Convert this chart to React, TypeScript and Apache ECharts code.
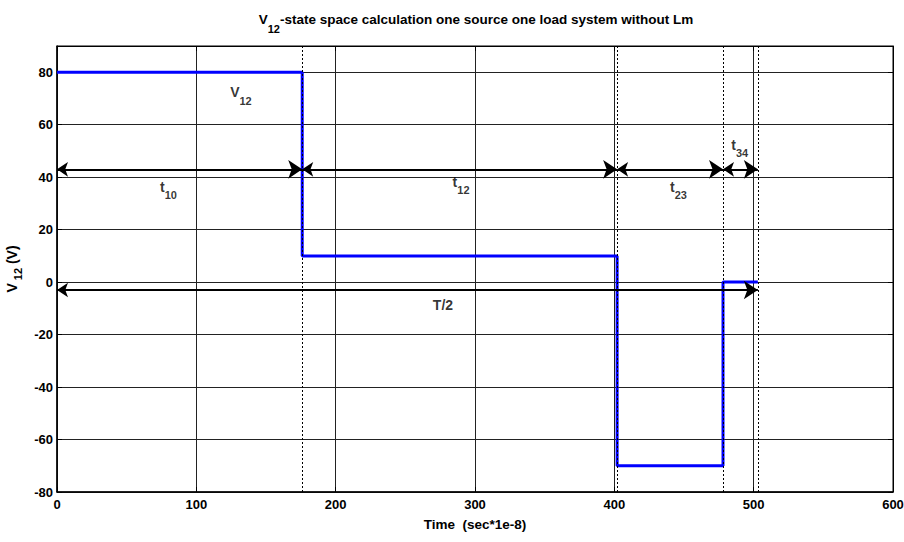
import React, { useEffect, useRef } from "react";
import * as echarts from "echarts";

const FONT = "'Liberation Sans', Arial, sans-serif";

// Switching instants of the V12 waveform (sec*1e-8)
const switchTimes = [176, 402, 478, 503];
// V12 step waveform: [time, voltage]
const v12Points: [number, number][] = [
  [0, 80],
  [176, 80],
  [176, 10],
  [402, 10],
  [402, -70],
  [478, -70],
  [478, 0],
  [503, 0],
];
// Interval arrows: [start, end, level]
const intervalArrows: [number, number, number][] = [
  [0, 176, 43],
  [176, 402, 43],
  [402, 478, 43],
  [478, 503, 43],
  [0, 503, -3],
];
// Annotation texts: [x, y, main, subscript]
const annotations: [number, number, string, string][] = [
  [132, 71, "V", "12"],
  [80, 35, "t", "10"],
  [290, 37, "t", "12"],
  [446, 35, "t", "23"],
  [490, 51, "t", "34"],
  [277, -10, "T/2", ""],
];

const xTicks = { min: 0, max: 600, interval: 100 };
const yTicks = { min: -80, max: 90, interval: 20 };

// main text + lowered subscript
const subRich = (main: number, sub: number, lh: number) => ({
  m: { fontFamily: FONT, fontWeight: "bold", fontSize: main, color: "#000", lineHeight: lh, verticalAlign: "top" },
  s: { fontFamily: FONT, fontWeight: "bold", fontSize: sub, color: "#000", lineHeight: lh, verticalAlign: "bottom" },
});

export default function App() {
  const ref = useRef<HTMLDivElement>(null);

  useEffect(() => {
    if (!ref.current) return;
    const chart = echarts.init(ref.current, undefined, { renderer: "svg" });
    const labelStyle = { fontFamily: FONT, fontWeight: "bold" as const, fontSize: 13, color: "#000" };

    chart.setOption({
      animation: false,
      backgroundColor: "#fff",
      title: {
        text: "{m|V}{s|12}{m|-state space calculation one source one load system without Lm}",
        left: 471,
        top: 7,
        textAlign: "center",
        textStyle: { rich: subRich(13.5, 11, 22) },
      },
      grid: {
        left: 57,
        right: 11,
        top: 46,
        bottom: 50,
        outerBoundsMode: "none",
        containLabel: false,
        show: true,
        borderColor: "#000",
        borderWidth: 1,
      },
      xAxis: [
        {
          type: "value",
          ...xTicks,
          name: "Time  (sec*1e-8)",
          nameLocation: "middle",
          nameGap: 25,
          nameTextStyle: { ...labelStyle, fontSize: 13.5 },
          axisLine: { show: true, onZero: false, lineStyle: { color: "#000", width: 1.5 } },
          axisTick: { show: true, inside: true, length: 5, lineStyle: { color: "#000" } },
          axisLabel: { ...labelStyle, margin: 6 },
          splitLine: { show: true, lineStyle: { color: "#222", width: 1 } },
        },
        {
          type: "value",
          ...xTicks,
          position: "top",
          axisLine: { show: true, onZero: false, lineStyle: { color: "#000", width: 1 } },
          axisTick: { show: true, inside: true, length: 5, lineStyle: { color: "#000" } },
          axisLabel: { show: false },
          splitLine: { show: false },
        },
      ],
      yAxis: [
        {
          type: "value",
          ...yTicks,
          name: "{m|V}{s| 12}{m| (V)}",
          nameLocation: "middle",
          nameGap: 33,
          nameRotate: 90,
          nameTextStyle: { rich: subRich(14, 11, 18) },
          axisLine: { show: true, onZero: false, lineStyle: { color: "#000", width: 1.5 } },
          axisTick: { show: true, inside: true, length: 5, lineStyle: { color: "#000" } },
          axisLabel: { ...labelStyle, margin: 4, showMaxLabel: false },
          splitLine: { show: true, lineStyle: { color: "#222", width: 1 } },
        },
        {
          type: "value",
          ...yTicks,
          position: "right",
          axisLine: { show: true, onZero: false, lineStyle: { color: "#000", width: 1 } },
          axisTick: { show: true, inside: true, length: 5, lineStyle: { color: "#000" } },
          axisLabel: { show: false },
          splitLine: { show: false },
        },
      ],
      series: [
        {
          type: "line",
          data: v12Points,
          showSymbol: false,
          symbol: "none",
          lineStyle: { color: "#0000ff", width: 3 },
          z: 5,
          markLine: {
            silent: true,
            symbol: "none",
            label: { show: false },
            lineStyle: { color: "#000", width: 1, type: [2, 2] },
            data: switchTimes.map((t) => ({ xAxis: t })),
            z: 6,
          },
        },
        {
          type: "lines",
          coordinateSystem: "cartesian2d",
          symbol: ["arrow", "arrow"],
          symbolSize: [11, 14],
          lineStyle: { color: "#000", width: 2, opacity: 1 },
          data: intervalArrows.map(([a, b, y]) => ({ coords: [[a, y], [b, y]] })),
          z: 7,
        },
        {
          type: "scatter",
          symbolSize: 0,
          data: annotations.map(([x, y, m, s]) => ({ value: [x, y], m, s })),
          label: {
            show: true,
            position: "inside",
            formatter: (p: any) => (p.data.s ? `{m|${p.data.m}}{s|${p.data.s}}` : `{m|${p.data.m}}`),
            rich: subRich(14, 11, 21),
          },
          z: 8,
        },
      ],
    });

    return () => chart.dispose();
  }, []);

  return <div ref={ref} style={{ width: 904, height: 542, position: "absolute", left: 0, top: 0 }} />;
}
